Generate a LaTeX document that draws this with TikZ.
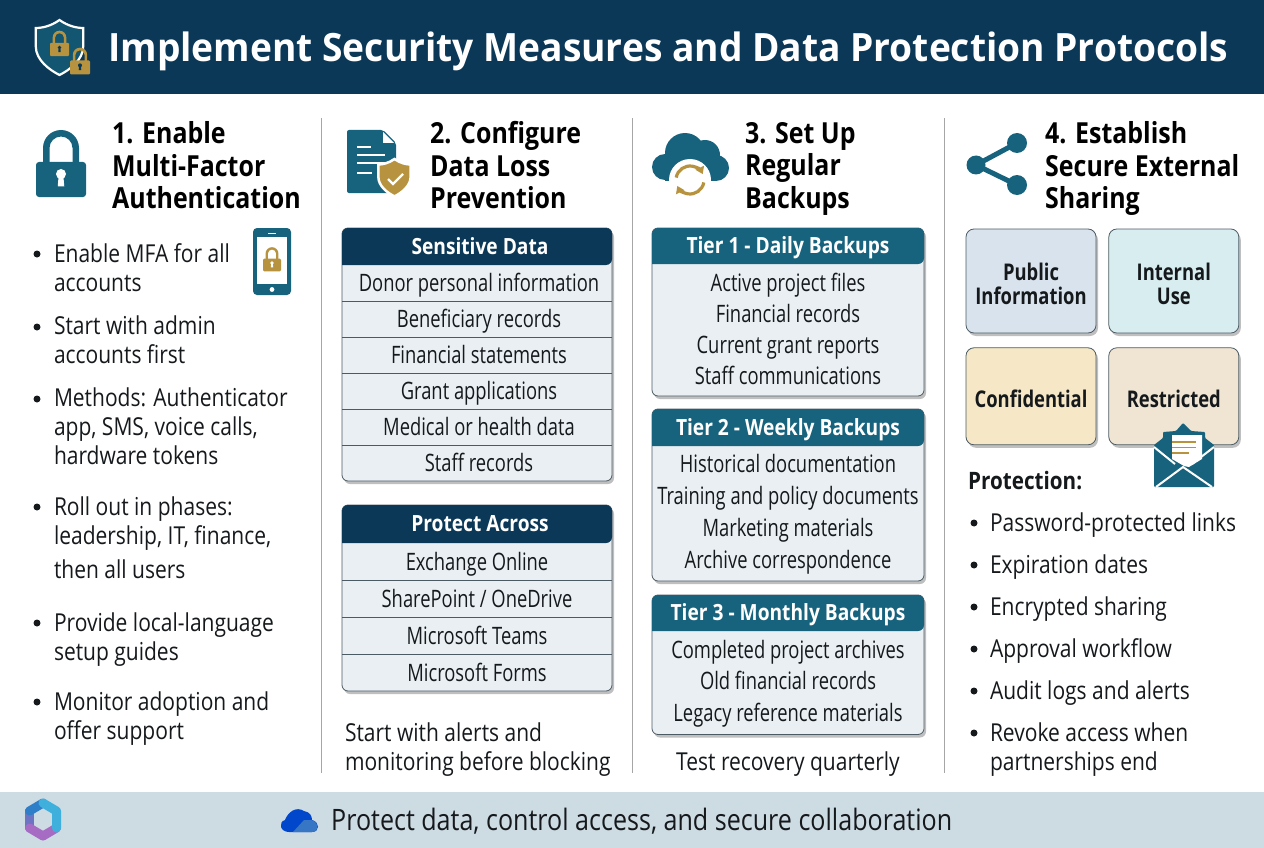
\documentclass[tikz,border=0pt]{standalone}
\usepackage{fontspec}
\setmainfont{Open Sans}
\newfontfamily\bodyfont{Open Sans}[FakeStretch=0.85]
\newfontfamily\tablefont{Open Sans}[FakeStretch=0.765]
\newfontfamily\headfont{Open Sans}[FakeStretch=0.86,BoldFont={Open Sans Bold}]
\newfontfamily\classfont{Open Sans}[FakeStretch=0.80,BoldFont={Open Sans Bold}]
\newfontfamily\titlefont{Open Sans}[FakeStretch=0.953,BoldFont={Open Sans Bold}]
\usetikzlibrary{positioning,fit,backgrounds,shadows,arrows.meta}
\definecolor{navyc}{HTML}{0B3856}
\definecolor{tealc}{HTML}{17637D}
\definecolor{goldc}{HTML}{B8933F}
\definecolor{cellc}{HTML}{E9EFF3}
\definecolor{edgec}{HTML}{4B5A63}
\definecolor{footc}{HTML}{CDDBE3}
\definecolor{inkc}{HTML}{15191C}
\definecolor{pubc}{HTML}{D9E3ED}
\definecolor{intc}{HTML}{D8EDF0}
\definecolor{conc}{HTML}{F6E8C6}
\definecolor{resc}{HTML}{EFE5D2}
\definecolor{m1}{HTML}{6D74C4}
\definecolor{m2}{HTML}{A66CC4}
\definecolor{m3}{HTML}{2F7FC8}
\definecolor{m4}{HTML}{3FB0DC}
\tikzset{
  bodytext/.style={text=inkc,inner sep=0pt,outer sep=0pt},
  blist/.style={bodytext,font=\bodyfont\fontsize{24.7}{29}\selectfont,anchor=west,align=left,yshift=-3pt,
    execute at begin node=\strut,execute at end node=\strut},
  nhead/.style={font=\headfont\bfseries\fontsize{29}{32.5}\selectfont,text=black,anchor=west,align=left,inner sep=0pt,
    execute at begin node=\strut,execute at end node=\strut},
  dot/.style={circle,fill=inkc,minimum size=7pt,inner sep=0pt},
  cell/.style={bodytext,font=\tablefont\fontsize{24}{29}\selectfont,minimum height=36pt,minimum width=270pt,text height=21.5pt,text depth=4.5pt},
  tierrow/.style={bodytext,font=\tablefont\fontsize{24}{29}\selectfont,minimum width=272pt,text height=21.5pt,text depth=4.5pt},
  headcell/.style={font=\headfont\bfseries\fontsize{22.3}{24}\selectfont,text=white,inner sep=0pt,outer sep=0pt,text height=19pt,text depth=4pt},
  nudge/.style={execute at begin node=\hspace*{#1}},
  framebox/.style={draw=edgec,line width=.8pt,rounded corners=6pt,fill=cellc,inner sep=0pt,
    drop shadow={shadow xshift=2pt,shadow yshift=-3pt,opacity=.25,fill=black}},
  classbox/.style={draw=edgec,line width=.8pt,rounded corners=8pt,minimum width=130pt,inner sep=0pt,
    font=\classfont\bfseries\fontsize{23}{24}\selectfont,align=center,text=inkc,
    drop shadow={shadow xshift=2pt,shadow yshift=-3pt,opacity=.25,fill=black}},
  sepline/.style={draw=gray!70,line width=1pt},
}
% lock: x, y, scale, body colour, hole colour
\newcommand{\lockicon}[5]{%
  \begin{scope}[shift={(#1,#2)},scale=#3]
    \fill[#4,even odd rule] (-.72,0) -- (-.72,-1.26) arc[start angle=180,end angle=360,radius=.72] -- (.72,0) -- (.46,0)
      -- (.46,-1.26) arc[start angle=360,end angle=180,radius=.46] -- (-.46,0) -- cycle;
    \fill[#4,rounded corners=.12*#3 pt] (-1,-.7) rectangle (1,.7);
    \fill[#5] (0,-.22) circle (.2);
    \fill[#5] (-.09,-.2) -- (.09,-.2) -- (.13,.27) -- (-.13,.27) -- cycle;
  \end{scope}}
\newcommand{\shieldicon}[6]{%
  \begin{scope}[shift={(#1,#2)},scale=#3]
    \draw[fill=#4,draw=#5,line width=#6] (0,-1) .. controls (.35,-.75) and (.7,-.68) .. (.95,-.68) -- (.95,.05)
      .. controls (.95,.6) and (.4,1) .. (0,1.2) .. controls (-.4,1) and (-.95,.6) .. (-.95,.05) -- (-.95,-.68)
      .. controls (-.7,-.68) and (-.35,-.75) .. (0,-1) -- cycle;
  \end{scope}}

\begin{document}
\begin{tikzpicture}[x=1pt,y=-1pt]
\useasboundingbox (0,0) rectangle (1264,848);

% bands
\fill[navyc] (0,0) rectangle (1264,94);
\fill[footc] (0,792) rectangle (1264,848);
\draw[sepline] (321,118) -- (321,773);
\draw[sepline] (632,118) -- (632,773);
\draw[sepline] (944,118) -- (944,773);

% title
\shieldicon{59.5}{45}{25}{tealc!70!navyc}{white}{2.2pt}
\lockicon{59.5}{49.5}{9.5}{goldc}{navyc}
\lockicon{80}{67.5}{10}{goldc}{navyc}
\node[font=\titlefont\bfseries\fontsize{39}{42}\selectfont,text=white,anchor=west,inner sep=0pt,text height=33pt,text depth=9pt] (title) at (108,50)
  {Implement Security Measures and Data Protection Protocols};

% column 1
\lockicon{61}{179.5}{25}{tealc}{white}
\node[nhead] (h1) at (112,170) {1. Enable\\Multi-Factor\\Authentication};
\foreach \y in {254,327,399,507,623,702}
  {\node[dot] (da\y) at (37,\y) {};}
\node[blist] (a1) at (54,268.5) {Enable MFA for all\\accounts};
\node[blist] (a2) at (54,341) {Start with admin\\accounts first};
\node[blist] (a3) at (54,427.5) {Methods: Authenticator\\app, SMS, voice calls,\\hardware tokens};
\node[blist] (a4) at (54,538.5) {Roll out in phases:\\leadership, IT, finance,\\[5pt]then all users};
\node[blist] (a5) at (54,637.5) {Provide local-language\\setup guides};
\node[blist] (a6) at (54,716.5) {Monitor adoption and\\offer support};
% phone
\fill[tealc,rounded corners=4pt] (253,228) rectangle (291,295);
\fill[white] (257,237) rectangle (287,284);
\fill[white] (268,232.5) rectangle (276,233.8);
\fill[white] (272,289.5) circle (2.4);
\lockicon{272}{265}{9}{goldc}{white}

% column 2
\fill[tealc,rounded corners=2pt] (347,130) -- (383,130) -- (396,143) -- (396,193) -- (347,193) -- cycle;
\fill[white] (383,132) -- (394,143) -- (383,143) -- cycle;
\draw[white,line width=2pt] (357,147) -- (371,147);
\draw[white,line width=2pt] (357,155) -- (385,155);
\draw[white,line width=2pt] (357,163) -- (385,163);
\draw[white,line width=2pt] (357,173) -- (372,173);
\shieldicon{394.5}{176}{17}{goldc}{white}{2.5pt}
\draw[white,line width=2.4pt] (388,179) -- (393,184) -- (403,174);
\node[nhead] (h2) at (430,170) {2. Configure\\Data Loss\\Prevention};

\node[headcell,nudge=6pt,minimum width=270pt,minimum height=37pt] (sdh) at (477,246.5) {Sensitive Data};
\node[cell,nudge=4pt,below=0pt of sdh] (sd1) {Donor personal information};
\node[cell,nudge=4pt,below=0pt of sd1] (sd2) {Beneficiary records};
\node[cell,nudge=4pt,below=0pt of sd2] (sd3) {Financial statements};
\node[cell,nudge=4pt,below=0pt of sd3] (sd4) {Grant applications};
\node[cell,nudge=4pt,below=0pt of sd4] (sd5) {Medical or health data};
\node[cell,nudge=4pt,below=0pt of sd5] (sd6) {Staff records};
\node[headcell,nudge=6pt,minimum width=270pt,minimum height=38pt] (pah) at (477,524) {Protect Across};
\node[cell,minimum height=37pt,below=0pt of pah] (pa1) {Exchange Online};
\node[cell,minimum height=37pt,below=0pt of pa1] (pa2) {SharePoint / OneDrive};
\node[cell,minimum height=37pt,below=0pt of pa2] (pa3) {Microsoft Teams};
\node[cell,minimum height=37pt,below=0pt of pa3] (pa4) {Microsoft Forms};
\begin{scope}[on background layer]
\node[framebox,fit=(sdh) (sd6)] (sdbox) {};
\fill[navyc] (sdh.south west) [rounded corners=6pt] -- (sdh.north west) -- (sdh.north east) -- (sdh.south east) [sharp corners] -- cycle;
\node[framebox,fit=(pah) (pa4)] (pabox) {};
\fill[navyc] (pah.south west) [rounded corners=6pt] -- (pah.north west) -- (pah.north east) -- (pah.south east) [sharp corners] -- cycle;
\end{scope}
\foreach \X in {1,...,5}
  {\draw[edgec,line width=.8pt] (sd\X.south west) -- (sd\X.south east);}
\foreach \X in {1,2,3}
  {\draw[edgec,line width=.8pt] (pa\X.south west) -- (pa\X.south east);}
\node[blist] (n2) at (345,747.5) {Start with alerts and\\monitoring before blocking};

% column 3
\fill[tealc] (665,167) circle (13);
\fill[tealc] (685,153) circle (20);
\fill[tealc] (705,155) circle (15);
\fill[tealc] (716,168) circle (13);
\fill[tealc] (665,170) rectangle (716,181);
\fill[white] (690,180) circle (21);
\draw[goldc,line width=3.2pt,-{Triangle[length=7pt,width=9pt]}] (690,180) ++(190:14) arc[start angle=190,end angle=335,radius=14];
\draw[goldc,line width=3.2pt,-{Triangle[length=7pt,width=9pt]}] (690,180) ++(10:14) arc[start angle=10,end angle=155,radius=14];
\node[nhead] (h3) at (745,170) {3. Set Up\\Regular\\Backups};

\node[headcell,minimum width=272pt,minimum height=36pt] (t1h) at (788,246) {Tier 1 - Daily Backups};
\node[tierrow,minimum height=31pt,below=3pt of t1h] (t1a) {Active project files};
\node[tierrow,minimum height=31pt,below=0pt of t1a] (t1b) {Financial records};
\node[tierrow,minimum height=31pt,below=0pt of t1b] (t1c) {Current grant reports};
\node[tierrow,minimum height=31pt,below=0pt of t1c] (t1d) {Staff communications};
\coordinate[below=5pt of t1d] (t1e);
\node[headcell,minimum width=272pt,minimum height=37pt] (t2h) at (788,427.5) {Tier 2 - Weekly Backups};
\node[tierrow,minimum height=32pt,below=2pt of t2h] (t2a) {Historical documentation};
\node[tierrow,minimum height=32pt,below=0pt of t2a] (t2b) {Training and policy documents};
\node[tierrow,minimum height=32pt,below=0pt of t2b] (t2c) {Marketing materials};
\node[tierrow,minimum height=32pt,below=0pt of t2c] (t2d) {Archive correspondence};
\coordinate[below=5pt of t2d] (t2e);
\node[headcell,minimum width=272pt,minimum height=36pt] (t3h) at (788,613) {Tier 3 - Monthly Backups};
\node[tierrow,minimum height=31.5pt,below=3pt of t3h] (t3a) {Completed project archives};
\node[tierrow,minimum height=31.5pt,below=0pt of t3a] (t3b) {Old financial records};
\node[tierrow,minimum height=31.5pt,below=0pt of t3b] (t3c) {Legacy reference materials};
\coordinate[below=6pt of t3c] (t3e);
\begin{scope}[on background layer]
\foreach \X in {1,2,3}{
\node[framebox,fit=(t\X h) (t\X e)] (t\X box) {};
\fill[tealc] (t\X h.south west) [rounded corners=6pt] -- (t\X h.north west) -- (t\X h.north east) -- (t\X h.south east) [sharp corners] -- cycle;
}
\end{scope}
\node[blist,anchor=center] (n3) at (788,762) {Test recovery quarterly};

% column 4
\draw[tealc,line width=5pt] (1017,143) -- (976,165) -- (1017,185);
\fill[tealc] (976,165) circle (9.5);
\fill[tealc] (1017,143) circle (10);
\fill[tealc] (1017,185) circle (10);
\node[nhead] (h4) at (1045,170) {4. Establish\\Secure External\\Sharing};

\node[classbox,fill=pubc,minimum height=104pt,text height=47pt,text depth=.5pt] (pub) at (1031,281) {Public\\Information};
\node[classbox,fill=intc,minimum height=104pt,text height=47pt,text depth=.5pt,right=12pt of pub] (int) {Internal\\Use};
\node[classbox,fill=conc,minimum height=97pt,below=14pt of pub,text height=23pt,text depth=0pt] (con) {Confidential};
\node[classbox,fill=resc,minimum height=97pt,below=14pt of int,text height=23pt,text depth=0pt] (res) {Restricted};
% envelope
\fill[tealc,rounded corners=1pt] (1183,423) -- (1191,431) -- (1205,432) -- (1205,438) -- (1214,445) -- (1214,487) -- (1154,487) -- (1154,445) -- (1163,438) -- (1163,432) -- (1176,431) -- cycle;
\fill[white] (1172,435) -- (1202,435) -- (1202,459) -- (1189,467) -- (1184,466) -- (1172,459) -- cycle;
\draw[goldc,line width=1.7pt] (1172,442) -- (1196,442);
\draw[goldc,line width=1.7pt] (1172,447.5) -- (1196,447.5);
\draw[goldc,line width=1.7pt] (1172,453) -- (1189,453);
\draw[white,line width=2pt] (1154,447) -- (1175,464);
\draw[white,line width=2pt] (1214,447) -- (1192,464);
\draw[white,line width=2pt] (1156,487) -- (1183,467) -- (1212,487);

\node[font=\headfont\bfseries\fontsize{24}{28}\selectfont,text=inkc,anchor=west,inner sep=0pt] (prot) at (968,481) {Protection:};
\foreach \y in {523,565,607,649,691,733}
  {\node[dot] (dd\y) at (974,\y) {};}
\node[blist] (d1) at (990,523) {Password-protected links};
\node[blist] (d2) at (990,565) {Expiration dates};
\node[blist] (d3) at (990,607) {Encrypted sharing};
\node[blist] (d4) at (990,649) {Approval workflow};
\node[blist] (d5) at (990,691) {Audit logs and alerts};
\node[blist] (d6) at (990,747.5) {Revoke access when\\partnerships end};

% footer
\begin{scope}[line width=9pt,line join=round,line cap=round]
\draw[m1] (29.5,811) -- (29.5,828);
\draw[m2] (29.5,828) -- (43,836) -- (56.5,828);
\draw[m3] (29.5,811) -- (43,803);
\draw[m4] (43,803) -- (56.5,811) -- (56.5,828);
\end{scope}
\fill[footc] (43,820) circle (8);
\fill[blue!65!cyan!80!black] (289,832) .. controls (280,832) and (278,822) .. (285,820) .. controls (288,812) and (296,806) .. (304,811)
  .. controls (310,812) and (312,816) .. (312,820) .. controls (320,822) and (320,832) .. (312,832) -- cycle;
\fill[cyan!45!blue!85] (293,832) -- (304,820) -- (311,820) .. controls (319,821) and (320,832) .. (312,832) -- cycle;
\node[font=\bodyfont\fontsize{29.5}{32}\selectfont,text=inkc,anchor=west,inner sep=0pt,text height=23pt,text depth=7pt] (foot) at (331,822) {Protect data, control access, and secure collaboration};

\end{tikzpicture}
\end{document}
